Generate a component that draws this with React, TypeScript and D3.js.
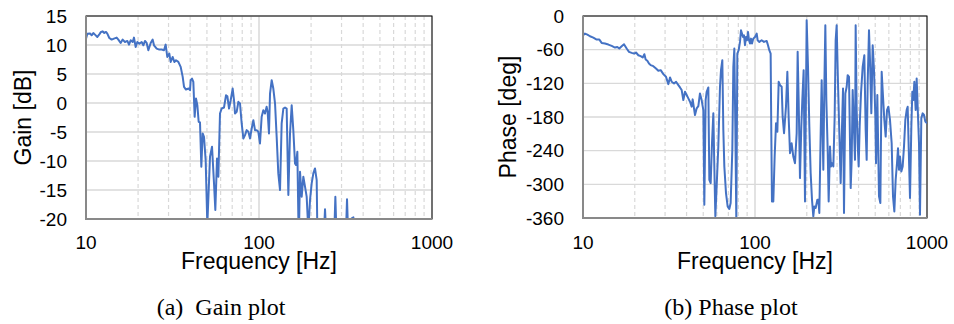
import React from "react";
import * as d3 from "d3";

const gainFreq = [
  10.0, 10.18, 10.55, 10.78, 11.02, 11.27, 11.63, 11.94, 12.21, 12.49, 12.71, 13.05, 13.28, 13.64, 14.07, 14.51,
  15.04, 15.38, 15.86, 16.29, 16.8, 17.34, 17.72, 18.12, 18.61, 18.94, 19.37, 19.8, 20.34, 20.98, 21.45, 21.93,
  22.42, 22.93, 23.65, 24.29, 24.72, 25.62, 26.54, 27.38, 28.24, 28.87, 29.51, 30.31, 30.86, 31.7, 32.41, 33.13,
  34.18, 35.26, 36.22, 36.87, 37.84, 39.22, 39.93, 40.28, 41.0, 41.73, 42.47, 43.23, 44.01, 44.8, 45.6, 46.42,
  47.24, 48.09, 49.17, 50.27, 52.1, 53.51, 54.95, 55.92, 57.19, 58.21, 59.51, 60.84, 62.76, 64.48, 65.62, 67.1,
  68.6, 70.44, 71.7, 72.67, 74.3, 75.97, 77.67, 79.41, 81.2, 83.02, 84.88, 86.79, 88.74, 90.73, 92.75, 94.82,
  96.94, 99.13, 101.3, 103.6, 105.9, 108.3, 110.7, 112.2, 114.2, 115.8, 118.4, 121.0, 123.8, 126.5, 129.3, 132.3,
  135.2, 138.3, 141.4, 144.5, 147.8, 151.1, 154.5, 157.9, 161.5, 163.6, 166.6, 168.8, 170.3, 172.6, 176.5, 180.4,
  184.5, 188.6, 192.8, 197.2, 201.6, 206.1, 210.7, 215.5, 217.4, 225.0, 237.6, 240.8, 244.0, 257.0, 272.6, 276.3,
  280.0, 300.0, 318.5, 322.7, 327.1, 343.5, 351.2, 354.3, 360.0,
];
const gainDb = [
  11.1, 11.96, 12.0, 11.67, 12.07, 11.79, 11.39, 11.84, 12.25, 12.36, 12.07, 12.25, 11.96, 11.21, 10.93, 11.1,
  11.27, 10.93, 10.35, 10.93, 10.52, 10.7, 10.07, 10.81, 10.52, 11.27, 9.66, 10.52, 10.24, 10.52, 9.95, 10.7,
  10.35, 9.09, 10.35, 10.93, 9.95, 9.38, 9.21, 9.21, 9.09, 10.07, 7.94, 8.52, 7.08, 7.94, 7.08, 7.37,
  7.08, 6.22, 4.5, 2.78, 2.32, 2.49, 2.21, 3.93, 4.21, 3.64, -2.38, 0.77, -0.38, -3.24, -3.36, -11.0,
  -5.25, -5.83, -9.84, -21.0, -9.27, -7.55, -13.86, -18.45, -9.56, -12.71, -1.81, -0.95, -0.78, 1.35, 1.17, -0.95,
  0.48, 2.49, 0.48, -1.81, -1.52, 0.2, -0.09, -3.53, -6.11, -5.54, -4.68, -4.97, -6.11, -4.39, -2.96, -4.68,
  -4.68, -4.97, -6.97, -2.38, -1.24, -1.81, -0.66, -1.52, -5.25, 1.63, 3.93, 2.49, -0.09, -5.83, -12.14, -15.01,
  -3.53, -0.95, -0.78, -0.95, -15.87, -5.25, -0.38, -4.68, -10.42, -10.7, -8.41, -19.6, -22.0, -11.85, -16.15, -12.71,
  -14.43, -16.15, -22.0, -16.73, -13.86, -12.14, -11.28, -13.28, -22.0, -24.0, -22.0, -18.33, -22.0, -26.0, -22.0, -16.15,
  -22.0, -25.0, -22.0, -16.61, -22.0, -19.88, -19.71, -22.0, -23.0,
];

const phaseFreq = [
  10.0, 10.27, 10.6, 10.98, 11.48, 12.01, 12.45, 12.84, 13.42, 14.04, 14.68, 15.35, 15.83, 16.26, 16.78, 17.31,
  17.94, 18.51, 19.18, 19.8, 20.33, 20.98, 21.64, 22.24, 22.74, 23.14, 23.66, 24.19, 24.74, 25.64, 26.57, 27.42,
  28.29, 29.32, 30.38, 31.35, 32.06, 32.78, 33.82, 34.74, 35.84, 36.64, 37.47, 38.31, 39.17, 40.06, 40.96, 41.89,
  42.83, 43.41, 44.19, 44.79, 45.8, 46.83, 47.87, 48.96, 50.07, 50.74, 51.65, 52.36, 53.54, 54.27, 55.24, 56.23,
  57.25, 58.02, 58.8, 59.85, 61.2, 62.58, 63.43, 64.57, 65.45, 66.33, 67.82, 69.35, 70.9, 72.18, 73.81, 74.82,
  75.83, 76.85, 77.88, 78.93, 80.35, 81.8, 82.9, 84.01, 85.14, 86.3, 87.46, 88.65, 89.85, 91.06, 92.29, 93.52,
  94.78, 96.05, 97.75, 100.0, 102.3, 103.6, 106.0, 109.3, 112.8, 116.9, 119.0, 121.1, 123.3, 124.4, 125.5, 127.8,
  130.1, 132.5, 134.9, 137.3, 139.8, 142.9, 144.8, 147.5, 151.4, 154.2, 156.9, 159.8, 163.3, 167.0, 170.8, 174.7,
  177.0, 179.4, 182.6, 185.9, 188.4, 191.8, 195.3, 199.7, 203.3, 207.0, 210.7, 214.5, 218.3, 221.3, 225.3, 230.4,
  233.5, 236.6, 240.9, 244.1, 249.6, 253.0, 256.4, 259.9, 264.6, 268.1, 272.9, 276.6, 280.3, 285.4, 290.5, 294.4,
  298.4, 303.8, 309.3, 314.9, 319.1, 324.9, 329.2, 335.2, 341.2, 345.8, 352.0, 360.0, 364.8, 369.7, 374.7, 381.4,
  384.8, 390.0, 395.3, 400.6, 406.0, 413.3, 422.7, 432.2, 440.0, 445.9, 451.9, 460.0, 466.2, 474.6, 483.2, 491.9,
  500.8, 505.3, 514.3, 526.0, 535.5, 545.1, 555.0, 564.9, 575.1, 585.4, 596.0, 609.4, 623.1, 634.4, 645.8, 657.4,
  669.3, 678.3, 687.4, 696.6, 709.2, 722.0, 734.9, 748.2, 761.7, 772.0, 782.4, 796.5, 810.9, 821.8, 832.8, 844.0,
  859.2, 870.8, 882.5, 898.4, 910.5, 926.9, 943.6, 960.6, 977.9, 1000.0,
];
const phaseDeg = [
  -34.3, -31.4, -33.2, -36.1, -38.5, -42.0, -42.0, -48.0, -49.1, -50.9, -53.3, -56.2, -55.1, -58.0, -53.9, -50.3,
  -58.0, -63.9, -65.7, -66.9, -65.1, -69.9, -71.6, -74.0, -68.1, -77.6, -79.9, -84.7, -87.6, -89.4, -93.5, -97.7,
  -96.5, -103.6, -108.4, -121.4, -109.5, -117.2, -120.2, -117.2, -123.2, -127.3, -132.0, -149.8, -135.0, -140.9, -146.8, -152.8,
  -161.6, -148.6, -164.6, -176.4, -164.6, -160.5, -138.0, -149.8, -167.6, -336.3, -149.8, -135.0, -127.3, -291.9, -297.8, -226.8,
  -173.5, -268.2, -357.0, -303.7, -232.7, -126.1, -96.5, -78.7, -203.1, -268.2, -315.6, -339.3, -344.0, -333.4, -238.6, -90.6,
  -58.0, -197.2, -365.0, -66.9, -61.0, -46.2, -25.5, -31.4, -37.3, -34.3, -52.1, -37.3, -43.2, -28.4, -43.2, -49.1,
  -40.3, -49.1, -40.3, -37.3, -31.4, -43.2, -46.2, -43.2, -46.2, -44.4, -52.1, -61.0, -66.9, -209.0, -330.4, -330.4,
  -250.5, -191.2, -206.1, -117.2, -123.2, -126.1, -179.4, -209.0, -161.6, -99.5, -179.4, -244.5, -226.8, -250.5, -262.3, -209.0,
  -63.9, -149.8, -288.9, -197.2, -149.8, -96.5, -330.4, -7.7, -90.6, -197.2, -280.1, -327.4, -357.0, -339.3, -342.2, -327.4,
  -327.4, -351.1, -209.0, -114.3, -274.1, -126.1, -16.6, -149.8, -238.6, -330.4, -232.7, -268.2, -262.3, -268.2, -179.4, -43.2,
  -16.6, -120.2, -209.0, -297.8, -220.9, -129.1, -351.1, -138.0, -126.1, -105.4, -108.4, -306.7, -256.4, -132.0, -185.3, -256.4,
  -16.6, -167.6, -226.8, -268.2, -197.2, -138.0, -90.6, -69.9, -203.1, -256.4, -120.2, -25.5, -78.7, -173.5, -52.1, -96.5,
  -179.4, -262.3, -140.9, -321.5, -333.4, -99.5, -143.9, -185.3, -214.9, -167.6, -161.6, -185.3, -226.8, -321.5, -348.2, -291.9,
  -262.3, -235.7, -274.1, -250.5, -277.1, -268.2, -232.7, -185.3, -167.6, -161.6, -232.7, -324.5, -197.2, -135.0, -149.8, -117.2,
  -167.6, -111.3, -161.6, -226.8, -354.1, -182.4, -173.5, -176.4, -188.3, -191.2,
];

const xTicks = [10, 100, 1000];
const gainTicks = [15, 10, 5, 0, -5, -10, -15, -20];
const phaseTicks = [0, -60, -120, -180, -240, -300, -360];

const SANS = "'Liberation Sans', Arial, sans-serif";
const SERIF = "'Liberation Serif', 'Times New Roman', serif";
const LINE = "#4472C4";
const GRID = "#d9d9d9";

type PanelProps = {
  id: string;
  x0: number; x1: number; y0: number; y1: number;
  yDomain: [number, number];
  yTicks: number[];
  freqs: number[];
  vals: number[];
  yTitle: string;
  yTitleX: number;
  caption: string;
  captionX: number;
};

function Panel(p: PanelProps) {
  const x = d3.scaleLog().domain([10, 1000]).range([p.x0, p.x1]);
  const y = d3.scaleLinear().domain(p.yDomain).range([p.y1, p.y0]);
  const minor: number[] = [];
  [10, 100].forEach((d) => { for (let k = 2; k <= 9; k++) minor.push(d * k); });
  const pts = p.freqs.map((f, i) => [f, p.vals[i]] as [number, number]);
  const line = d3.line<[number, number]>().x((d) => x(d[0])).y((d) => y(d[1]));
  const cy = (p.y0 + p.y1) / 2;
  return (
    <g>
      <defs>
        <clipPath id={p.id}>
          <rect x={p.x0} y={p.y0} width={p.x1 - p.x0} height={p.y1 - p.y0} />
        </clipPath>
      </defs>
      {p.yTicks.map((t) => (
        <line key={"h" + t} x1={p.x0} x2={p.x1} y1={y(t)} y2={y(t)} stroke={GRID} strokeWidth={1.3} />
      ))}
      {minor.map((m) => (
        <line key={"m" + m} x1={x(m)} x2={x(m)} y1={p.y0} y2={p.y1} stroke={GRID} strokeWidth={1.2} strokeDasharray="4,3" />
      ))}
      {xTicks.map((t) => (
        <line key={"v" + t} x1={x(t)} x2={x(t)} y1={p.y0} y2={p.y1} stroke={GRID} strokeWidth={1.5} />
      ))}
      <rect x={p.x0} y={p.y0} width={p.x1 - p.x0} height={p.y1 - p.y0} fill="none" stroke="#000" strokeWidth={1} />
      <path d={line(pts) || ""} fill="none" stroke={LINE} strokeWidth={2} strokeLinejoin="round" clipPath={`url(#${p.id})`} />
      <line x1={p.x0} x2={p.x0} y1={p.y0} y2={p.y1 + 1} stroke="#898989" strokeWidth={2} />
      <line x1={p.x0} x2={p.x1} y1={p.y1} y2={p.y1} stroke="#898989" strokeWidth={2} />
      {p.yTicks.map((t) => (
        <text key={"yl" + t} x={p.x0 - 19} y={y(t)} dy="0.35em" textAnchor="end" fontFamily={SANS} fontSize={19} fill="#000">
          {t}
        </text>
      ))}
      {xTicks.map((t) => (
        <text key={"xl" + t} x={x(t)} y={249} textAnchor="middle" fontFamily={SANS} fontSize={19} fill="#000">
          {t}
        </text>
      ))}
      <text x={x(100)} y={269} textAnchor="middle" fontFamily={SANS} fontSize={23} fill="#000">
        Frequency [Hz]
      </text>
      <text
        transform={`translate(${p.yTitleX},${cy}) rotate(-90)`}
        textAnchor="middle"
        fontFamily={SANS}
        fontSize={23}
        fill="#000"
      >
        {p.yTitle}
      </text>
      <text x={p.captionX} y={315} textAnchor="middle" fontFamily={SERIF} fontSize={24} fill="#000" xmlSpace="preserve">
        {p.caption}
      </text>
    </g>
  );
}

export default function App() {
  return (
    <svg width={954} height={324} style={{ position: "absolute", left: 0, top: 0, background: "#fff" }}>
      <rect width={954} height={324} fill="#fff" />
      <Panel
        id="clipGain"
        x0={86} x1={432} y0={16} y1={219}
        yDomain={[-20, 15]}
        yTicks={gainTicks}
        freqs={gainFreq}
        vals={gainDb}
        yTitle="Gain [dB]"
        yTitleX={31}
        caption="(a)  Gain plot"
        captionX={221}
      />
      <Panel
        id="clipPhase"
        x0={583} x1={927} y0={16} y1={218}
        yDomain={[-360, 0]}
        yTicks={phaseTicks}
        freqs={phaseFreq}
        vals={phaseDeg}
        yTitle="Phase [deg]"
        yTitleX={516}
        caption="(b) Phase plot"
        captionX={731}
      />
    </svg>
  );
}
